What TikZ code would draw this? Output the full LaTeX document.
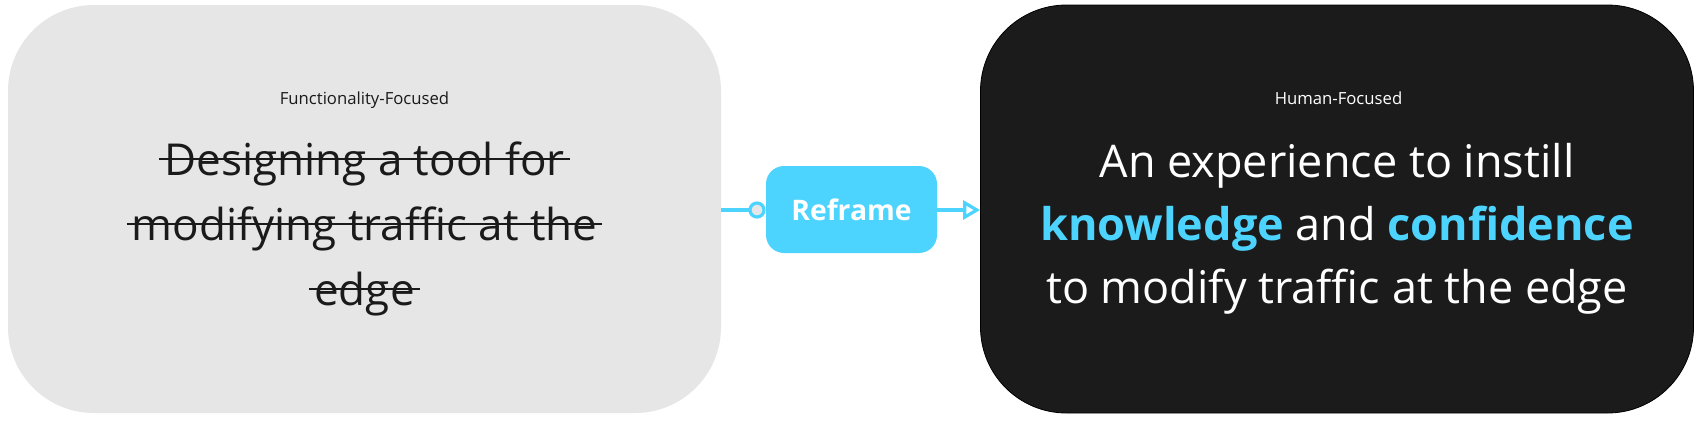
\documentclass[tikz,border=0pt]{standalone}
\usepackage{fontspec}
\setmainfont{Open Sans}
\usetikzlibrary{arrows.meta}
\definecolor{boxgray}{HTML}{E6E6E6}
\definecolor{boxdark}{HTML}{1B1B1B}
\definecolor{cyanx}{HTML}{4DD4FE}
\definecolor{inkx}{HTML}{1A1A1A}
\tikzset{
  bigbox/.style={rounded corners=86pt, minimum width=713pt, minimum height=408pt, inner sep=0pt},
  smalllabel/.style={font=\fontsize{16.7}{20}\selectfont, anchor=base, inner sep=0pt},
  struckline/.style={text=inkx, font=\fontsize{44}{52}\selectfont, anchor=base, inner sep=0pt},
  humanline/.style={text=white, font=\fontsize{45}{52}\selectfont, anchor=base, inner sep=0pt},
  strike/.style={draw=inkx, line width=2.8pt},
  conn/.style={draw=cyanx, line width=3.2pt},
}
\begin{document}
\begin{tikzpicture}[x=1pt,y=-1pt]
\useasboundingbox[fill=white] (0,0) rectangle (1700,421);
\node[bigbox, fill=boxgray] (left) at (364.5,209) {};
\node[bigbox, fill=boxdark, draw=black, line width=0.8pt] (right) at (1337,209) {};
\node[smalllabel, text=inkx] (ltitle) at (364.5,104) {Functionality-Focused};
\node[smalllabel, text=white] (rtitle) at (1338.5,104) {Human-Focused};
\node[struckline] (l1) at (364.5,175) {Designing a tool for};
\node[struckline] (l2) at (364.5,240) {modifying traffic at the};
\node[struckline] (l3) at (364.5,305) {edge};
\foreach \n in {l1,l2,l3}{
  \draw[strike] ([xshift=-5pt,yshift=16pt]\n.base west) -- ([xshift=5pt,yshift=16pt]\n.base east);
}
\node[humanline] (r1) at (1337,177) {An experience to instill};
\node[humanline] (r2) at (1337,240) {{\bfseries\color{cyanx}knowledge} and {\bfseries\color{cyanx}confidence}};
\node[humanline] (r3) at (1337,303) {to modify traffic at the edge};
\node[fill=cyanx, rounded corners=18pt, minimum width=171pt, minimum height=87pt, inner sep=0pt,
      text=white, font=\bfseries\fontsize{28.3}{32}\selectfont] (reframe) at (851.5,209.5) {Reframe};
\coordinate (c) at (757,210);
\draw[conn] (left.east |- c) -- ([xshift=-7pt]c);
\draw[conn, fill=boxgray] (c) circle (7pt);
\draw[conn, -{Triangle[open, length=17pt, width=19pt, line width=3.2pt]}] (reframe.east |- c) -- (right.west |- c);
\end{tikzpicture}
\end{document}
